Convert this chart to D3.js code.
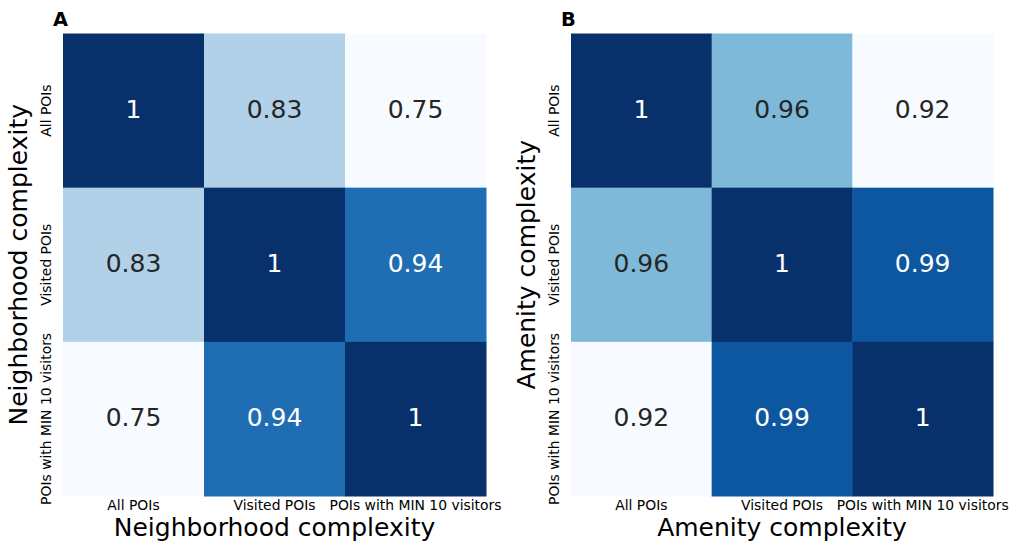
<!DOCTYPE html>
<html>
<head>
<meta charset="utf-8">
<script src="https://cdn.jsdelivr.net/npm/d3@7"></script>
<style>
  html, body { margin: 0; padding: 0; background: #fff; }
  svg { display: block; font-family: "DejaVu Sans", sans-serif; }
</style>
</head>
<body>
<svg id="chart" width="1018" height="552"></svg>
<script>
const categories = ["All POIs", "Visited POIs", "POIs with MIN 10 visitors"];
const neighborhoodValues = [
  [1, 0.83, 0.75],
  [0.83, 1, 0.94],
  [0.75, 0.94, 1]
];
const amenityValues = [
  [1, 0.956, 0.92],
  [0.956, 1, 0.988],
  [0.92, 0.988, 1]
];
const panelLetters = ["A", "B"];
const axisTitles = ["Neighborhood complexity", "Amenity complexity"];

// matplotlib "Blues" colormap anchors
const bluesStops = ["#f7fbff","#deebf7","#c6dbef","#9ecae1","#6baed6","#4292c6","#2171b5","#08519c","#08306b"];

const svg = d3.select("#chart");
const panels = [
  { values: neighborhoodValues, left: 63, right: 486 },
  { values: amenityValues, left: 571, right: 993 }
];
const plotTop = 33.5, plotBottom = 496;
const fmt = d3.format(".2");

panels.forEach((p, pi) => {
  const flat = p.values.flat();
  const vmin = d3.min(flat), vmax = d3.max(flat);
  const norm = d3.scaleLinear().domain([vmin, vmax]).range([0, 1]);
  const cmap = d3.scaleLinear()
    .domain(bluesStops.map((_, i) => i / (bluesStops.length - 1)))
    .range(bluesStops)
    .interpolate(d3.interpolateRgb)
    .clamp(true);
  const color = v => cmap(norm(v));

  const x = d3.scaleBand().domain(categories).range([p.left, p.right]);
  const y = d3.scaleBand().domain(categories).range([plotTop, plotBottom]);

  const cells = [];
  p.values.forEach((row, ri) => row.forEach((v, ci) => cells.push({ r: categories[ri], c: categories[ci], v })));

  const g = svg.append("g");
  g.selectAll("rect").data(cells).join("rect")
    .attr("x", d => x(d.c))
    .attr("y", d => y(d.r))
    .attr("width", x.bandwidth() + 0.5)
    .attr("height", y.bandwidth() + 0.5)
    .attr("fill", d => color(d.v));

  function lum(c) {
    const rgb = d3.rgb(c);
    const f = u => { u /= 255; return u <= 0.03928 ? u / 12.92 : Math.pow((u + 0.055) / 1.055, 2.4); };
    return 0.2126 * f(rgb.r) + 0.7152 * f(rgb.g) + 0.0722 * f(rgb.b);
  }

  g.selectAll("text.annot").data(cells).join("text")
    .attr("class", "annot")
    .attr("x", d => x(d.c) + x.bandwidth() / 2)
    .attr("y", d => y(d.r) + y.bandwidth() / 2)
    .attr("text-anchor", "middle")
    .attr("dy", "0.3em")
    .attr("font-size", 25)
    .attr("fill", d => lum(color(d.v)) > 0.408 ? "#262626" : "#ffffff")
    .text(d => fmt(d.v));

  // x axis
  const xa = svg.append("g")
    .attr("transform", `translate(0,${plotBottom})`)
    .call(d3.axisBottom(x).tickSize(0).tickPadding(4));
  xa.select(".domain").remove();
  xa.selectAll("text").attr("font-size", 13.9).attr("fill", "#000")
    .attr("font-family", "DejaVu Sans").attr("dy", "0.71em");

  // y axis (rotated labels)
  const ya = svg.append("g")
    .attr("transform", `translate(${p.left},0)`)
    .call(d3.axisLeft(y).tickSize(0).tickPadding(5));
  ya.select(".domain").remove();
  ya.selectAll(".tick text")
    .attr("font-size", 13.9).attr("fill", "#000").attr("font-family", "DejaVu Sans")
    .attr("x", null).attr("dy", null)
    .attr("text-anchor", "middle")
    .attr("transform", "translate(-12,0) rotate(-90)");

  // axis titles
  svg.append("text")
    .attr("x", (p.left + p.right) / 2)
    .attr("y", 536)
    .attr("text-anchor", "middle")
    .attr("font-size", 25)
    .attr("fill", "#000")
    .text(axisTitles[pi]);
  svg.append("text")
    .attr("transform", `translate(${p.left - 36},${(plotTop + plotBottom) / 2}) rotate(-90)`)
    .attr("text-anchor", "middle")
    .attr("font-size", 25)
    .attr("fill", "#000")
    .text(axisTitles[pi]);

  // panel letter
  svg.append("text")
    .attr("x", p.left - 10)
    .attr("y", 26)
    .attr("font-size", 19.4)
    .attr("font-weight", "bold")
    .attr("fill", "#000")
    .text(panelLetters[pi]);
});
</script>
</body>
</html>
